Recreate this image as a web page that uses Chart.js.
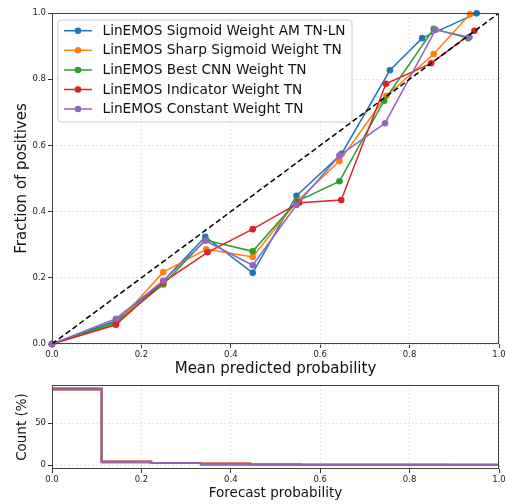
<!DOCTYPE html>
<html><head><meta charset="utf-8">
<script src="https://cdn.jsdelivr.net/npm/chart.js@4/dist/chart.umd.min.js"></script>
<style>
html,body{margin:0;padding:0;background:#fff;overflow:hidden;}
#c1{position:absolute;left:0;top:0;}
#c2{position:absolute;left:0;top:375px;}
</style></head><body>
<canvas id="c1" width="509" height="380"></canvas>
<canvas id="c2" width="509" height="129"></canvas>
<script>
// ---- data ----
const seriesNames = [
  'LinEMOS Sigmoid Weight AM TN-LN',
  'LinEMOS Sharp Sigmoid Weight TN',
  'LinEMOS Best CNN Weight TN',
  'LinEMOS Indicator Weight TN',
  'LinEMOS Constant Weight TN'
];
const seriesColors = ['#1f77b4', '#ff7f0e', '#2ca02c', '#d62728', '#9467bd'];

const sigmoidAmX = [0.0, 0.143, 0.249, 0.343, 0.449, 0.547, 0.648, 0.756, 0.828, 0.950];
const sigmoidAmY = [0.0, 0.070, 0.190, 0.324, 0.215, 0.448, 0.575, 0.827, 0.924, 0.999];
const sharpSigX  = [0.0, 0.143, 0.249, 0.345, 0.449, 0.547, 0.643, 0.748, 0.854, 0.935];
const sharpSigY  = [0.0, 0.060, 0.217, 0.286, 0.263, 0.430, 0.553, 0.750, 0.876, 0.996];
const bestCnnX   = [0.0, 0.143, 0.249, 0.343, 0.449, 0.547, 0.643, 0.743, 0.854, 0.931];
const bestCnnY   = [0.0, 0.065, 0.180, 0.314, 0.280, 0.430, 0.4915, 0.735, 0.952, 0.924];
const indicatorX = [0.0, 0.143, 0.249, 0.348, 0.449, 0.553, 0.647, 0.747, 0.848, 0.945];
const indicatorY = [0.0, 0.058, 0.187, 0.277, 0.347, 0.427, 0.435, 0.786, 0.848, 0.946];
const constantX  = [0.0, 0.143, 0.249, 0.343, 0.449, 0.547, 0.643, 0.745, 0.858, 0.934];
const constantY  = [0.0, 0.0765, 0.191, 0.312, 0.238, 0.420, 0.569, 0.667, 0.949, 0.927];

const diagonalX = [0, 1];
const diagonalY = [0, 1];

const binEdges   = [0.0, 0.111, 0.222, 0.333, 0.444, 0.556, 0.667, 0.778, 0.889, 1.0];
const sigmoidAmHist = [91.3, 3.6, 2.6, 0.9, 0.7, 0.6, 0.5, 0.5, 0.1];
const sharpSigHist  = [91.2, 3.7, 2.6, 1.0, 0.7, 0.6, 0.5, 0.5, 0.4];
const bestCnnHist   = [91.3, 3.6, 2.6, 0.9, 0.7, 0.6, 0.5, 0.5, 0.4];
const indicatorHist = [90.0, 4.6, 2.6, 2.3, 0.9, 0.6, 0.5, 0.5, 0.5];
const constantHist  = [91.4, 3.6, 2.6, 0.8, 0.7, 0.6, 0.5, 0.5, 0.4];

const probTicks = [0, 0.2, 0.4, 0.6, 0.8, 1.0];
const probTickLabels = ['0.0', '0.2', '0.4', '0.6', '0.8', '1.0'];
const countTicks = [0, 50];
const countTickLabels = ['0', '50'];

// ---- helpers ----
const FAM = '"DejaVu Sans", sans-serif';
const pts = (xs, ys) => xs.map((x, i) => ({x: x, y: ys[i]}));
const hexA = (h, a) => {
  const r = parseInt(h.slice(1,3),16), g = parseInt(h.slice(3,5),16), b = parseInt(h.slice(5,7),16);
  return `rgba(${r},${g},${b},${a})`;
};

const curveX = [sigmoidAmX, sharpSigX, bestCnnX, indicatorX, constantX];
const curveY = [sigmoidAmY, sharpSigY, bestCnnY, indicatorY, constantY];
const hists = [sigmoidAmHist, sharpSigHist, bestCnnHist, indicatorHist, constantHist];
const histAlpha = [0.7, 0.5, 0.5, 0.75, 0.85];

const framePlugin = {
  id: 'frame',
  afterDatasetsDraw(chart) {
    const a = chart.chartArea, ctx = chart.ctx;
    ctx.save();
    ctx.strokeStyle = '#444';
    ctx.lineWidth = 1;
    ctx.strokeRect(Math.round(a.left) + 0.5, Math.round(a.top) + 0.5,
                   Math.round(a.right - a.left) - 1, Math.round(a.bottom - a.top) - 1);
    ctx.restore();
  }
};

const legendPlugin = {
  id: 'inlegend',
  afterDraw(chart) {
    const ctx = chart.ctx;
    ctx.save();
    const bx = 58, by = 20, bw = 294, bh = 102, r = 3;
    ctx.beginPath();
    ctx.moveTo(bx + r, by);
    ctx.arcTo(bx + bw, by, bx + bw, by + bh, r);
    ctx.arcTo(bx + bw, by + bh, bx, by + bh, r);
    ctx.arcTo(bx, by + bh, bx, by, r);
    ctx.arcTo(bx, by, bx + bw, by, r);
    ctx.closePath();
    ctx.fillStyle = 'rgba(255,255,255,0.8)';
    ctx.fill();
    ctx.strokeStyle = '#cccccc';
    ctx.lineWidth = 1;
    ctx.stroke();
    const rows = [30.7, 50.3, 70, 89.5, 109];
    ctx.font = '13.7px ' + FAM;
    ctx.textBaseline = 'middle';
    ctx.textAlign = 'left';
    seriesNames.forEach((name, i) => {
      const y = rows[i];
      ctx.strokeStyle = seriesColors[i];
      ctx.lineWidth = 1.5;
      ctx.beginPath(); ctx.moveTo(64, y); ctx.lineTo(92, y); ctx.stroke();
      ctx.fillStyle = seriesColors[i];
      ctx.beginPath(); ctx.arc(78, y, 3.3, 0, Math.PI * 2); ctx.fill();
      ctx.fillStyle = '#111';
      ctx.fillText(name, 102.5, y + 0.5);
    });
    ctx.restore();
  }
};

function axisCommon(ticks, labels, titleText, titleSize, titlePad) {
  return {
    type: 'linear',
    afterBuildTicks: s => { s.ticks = ticks.map(v => ({value: v})); },
    ticks: {
      font: {family: FAM, size: 8.5}, color: '#222', padding: 2, maxRotation: 0, minRotation: 0,
      autoSkip: false,
      callback: (v, i) => labels[i]
    },
    grid: {color: '#dddddd', lineWidth: 0.8, tickLength: 4, tickColor: '#333', tickWidth: 1},
    border: {display: false, dash: [2, 2]},
    title: {display: true, text: titleText, font: {family: FAM, size: titleSize}, color: '#111', padding: titlePad}
  };
}

// ---- top chart ----
const topDatasets = [];
topDatasets.push({
  label: 'diag', data: pts(diagonalX, diagonalY), showLine: true,
  borderColor: '#000', borderWidth: 1.5, borderDash: [5.5, 3], pointRadius: 0, order: 0
});
seriesNames.forEach((name, i) => {
  topDatasets.push({
    label: name, data: pts(curveX[i], curveY[i]), showLine: true,
    borderColor: seriesColors[i], backgroundColor: seriesColors[i],
    borderWidth: 1.5, pointRadius: 3.3, pointBorderWidth: 0, pointHoverRadius: 3.3,
    order: 10 - i, clip: 4
  });
});

const xTop = axisCommon(probTicks, probTickLabels, 'Mean predicted probability', 15, {top: 0, bottom: 2});
xTop.min = 0; xTop.max = 1; xTop.position = 'bottom';
xTop.afterFit = s => { s.height = 36; };
const yTop = axisCommon(probTicks, probTickLabels, 'Fraction of positives', 15, {top: 13, bottom: 0});
yTop.min = 0; yTop.max = 1; yTop.position = 'left';
yTop.afterFit = s => { s.width = 52; };

new Chart(document.getElementById('c1'), {
  type: 'scatter',
  data: {datasets: topDatasets},
  options: {
    responsive: false, animation: false, devicePixelRatio: 1,
    layout: {padding: {top: 13, right: 10, left: 0, bottom: 0}},
    plugins: {legend: {display: false}, tooltip: {enabled: false}},
    scales: {x: xTop, y: yTop}
  },
  plugins: [framePlugin, legendPlugin]
});

// ---- bottom chart ----
const histDatasets = seriesNames.map((name, i) => {
  const h = hists[i];
  const d = [{x: binEdges[0], y: 0}];
  h.forEach((v, k) => d.push({x: binEdges[k], y: v}));
  d.push({x: binEdges[binEdges.length - 1], y: h[h.length - 1]});
  d.push({x: binEdges[binEdges.length - 1], y: 0});
  return {
    label: name, data: d, showLine: true, stepped: true,
    borderColor: hexA(seriesColors[i], histAlpha[i]), borderWidth: 2, pointRadius: 0,
    order: 10 - i
  };
});

const xBot = axisCommon(probTicks, probTickLabels, 'Forecast probability', 13.5, {top: 0, bottom: 2});
xBot.min = 0; xBot.max = 1; xBot.position = 'bottom';
xBot.afterFit = s => { s.height = 35; };
const yBot = axisCommon(countTicks, countTickLabels, 'Count (%)', 13.5, {top: 14, bottom: 0});
yBot.min = -4.55; yBot.max = 95.55; yBot.position = 'left';
yBot.afterFit = s => { s.width = 52; };

new Chart(document.getElementById('c2'), {
  type: 'scatter',
  data: {datasets: histDatasets},
  options: {
    responsive: false, animation: false, devicePixelRatio: 1,
    layout: {padding: {top: 10, right: 10, left: 0, bottom: 0}},
    plugins: {legend: {display: false}, tooltip: {enabled: false}},
    scales: {x: xBot, y: yBot}
  },
  plugins: [framePlugin]
});
</script>
</body></html>
